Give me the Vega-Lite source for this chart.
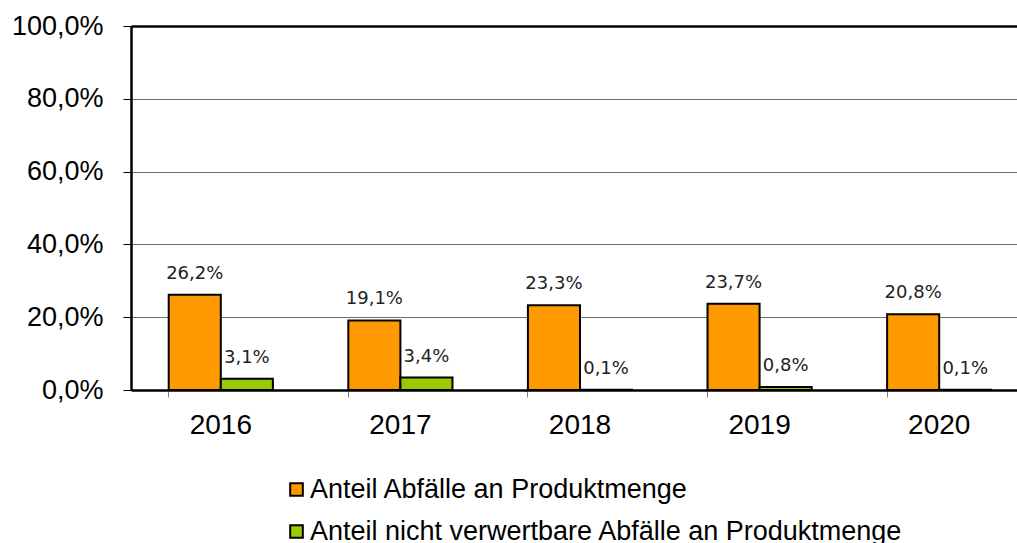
{
  "$schema": "https://vega.github.io/schema/vega-lite/v6.json",
  "autosize": "none",
  "padding": {"left": 131, "top": 26, "right": 0, "bottom": 153},
  "width": 886,
  "height": 364,
  "background": "white",
  "data": {
    "values": [
      {"Jahr": "2016", "Serie": "Anteil Abfälle an Produktmenge", "Wert": 0.262},
      {"Jahr": "2016", "Serie": "Anteil nicht verwertbare Abfälle an Produktmenge", "Wert": 0.031},
      {"Jahr": "2017", "Serie": "Anteil Abfälle an Produktmenge", "Wert": 0.191},
      {"Jahr": "2017", "Serie": "Anteil nicht verwertbare Abfälle an Produktmenge", "Wert": 0.034},
      {"Jahr": "2018", "Serie": "Anteil Abfälle an Produktmenge", "Wert": 0.233},
      {"Jahr": "2018", "Serie": "Anteil nicht verwertbare Abfälle an Produktmenge", "Wert": 0.001},
      {"Jahr": "2019", "Serie": "Anteil Abfälle an Produktmenge", "Wert": 0.237},
      {"Jahr": "2019", "Serie": "Anteil nicht verwertbare Abfälle an Produktmenge", "Wert": 0.008},
      {"Jahr": "2020", "Serie": "Anteil Abfälle an Produktmenge", "Wert": 0.208},
      {"Jahr": "2020", "Serie": "Anteil nicht verwertbare Abfälle an Produktmenge", "Wert": 0.001}
    ]
  },
  "encoding": {
    "x": {
      "field": "Jahr",
      "type": "nominal",
      "title": null,
      "scale": {"range": [0, 898], "paddingInner": 0.42, "paddingOuter": 0.21},
      "axis": {
        "bandPosition": 0,
        "labelAngle": 0,
        "labelFont": "Liberation Sans",
        "labelFontSize": 28,
        "labelColor": "#000000",
        "labelPadding": 14,
        "labelBaseline": "top",
        "tickSize": 7,
        "tickColor": "#808080",
        "tickWidth": 1,
        "domainColor": "#000000",
        "domainWidth": 2.5,
        "grid": false,
        "zindex": 1
      }
    },
    "xOffset": {
      "field": "Serie",
      "type": "nominal",
      "sort": ["Anteil Abfälle an Produktmenge", "Anteil nicht verwertbare Abfälle an Produktmenge"],
      "scale": {"paddingInner": 0, "paddingOuter": 0}
    },
    "y": {
      "field": "Wert",
      "type": "quantitative",
      "title": null,
      "scale": {"domain": [0, 1], "nice": false},
      "axis": {
        "values": [0, 0.2, 0.4, 0.6, 0.8, 1],
        "format": ".1%",
        "labelFont": "Liberation Sans",
        "labelFontSize": 27,
        "labelColor": "#000000",
        "labelPadding": 20,
        "tickSize": 8,
        "tickColor": "#000000",
        "tickWidth": 1,
        "domainColor": "#000000",
        "domainWidth": 2.5,
        "grid": true,
        "gridColor": {"condition": {"test": "datum.value === 1", "value": "#000000"}, "value": "#6e6e6e"},
        "gridWidth": {"condition": {"test": "datum.value === 1", "value": 2.5}, "value": 1},
        "zindex": 0
      }
    }
  },
  "layer": [
    {
      "mark": {"type": "bar", "stroke": "#000000", "strokeWidth": 2},
      "encoding": {
        "color": {
          "field": "Serie",
          "type": "nominal",
          "title": null,
          "scale": {
            "domain": ["Anteil Abfälle an Produktmenge", "Anteil nicht verwertbare Abfälle an Produktmenge"],
            "range": ["#FF9900", "#99CC00"]
          },
          "legend": {
            "orient": "none",
            "legendX": 152,
            "legendY": 450,
            "direction": "vertical",
            "padding": 0,
            "symbolType": "square",
            "symbolSize": 160,
            "symbolStrokeColor": "#000000",
            "symbolStrokeWidth": 2,
            "symbolOpacity": 1,
            "labelFont": "Liberation Sans",
            "labelFontSize": 27,
            "labelColor": "#000000",
            "labelOffset": 0,
            "labelLimit": 900,
            "rowPadding": 14
          }
        }
      }
    },
    {
      "mark": {"type": "text", "baseline": "alphabetic", "align": "center", "dy": -16, "font": "DejaVu Sans", "fontSize": 18, "color": "#222222"},
      "encoding": {
        "text": {"field": "Wert", "type": "quantitative", "format": ".1%"}
      }
    }
  ],
  "config": {
    "view": {"stroke": null},
    "locale": {"number": {"decimal": ",", "thousands": ".", "grouping": [3], "currency": ["", " €"]}}
  }
}
